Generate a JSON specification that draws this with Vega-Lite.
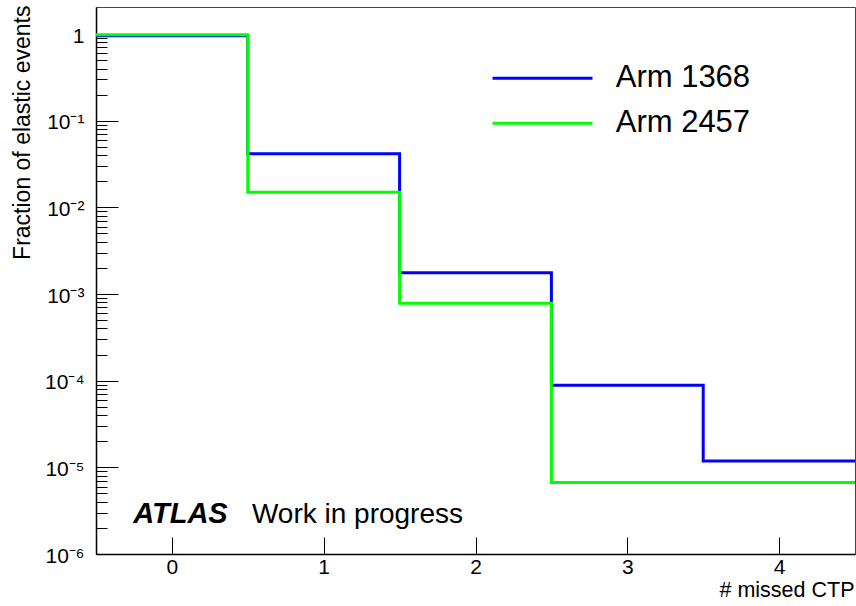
{
  "$schema": "https://vega.github.io/schema/vega-lite/v6.json",
  "width": 759,
  "height": 547,
  "autosize": {"type": "none"},
  "padding": {"left": 96, "top": 7, "right": 1, "bottom": 52},
  "background": "white",
  "config": {
    "view": {"stroke": "#444444", "strokeWidth": 1},
    "font": "Liberation Sans"
  },
  "resolve": {"axis": {"y": "independent"}},
  "layer": [
    {
      "data": {
        "values": [
          {"series": "Arm 1368", "x": -0.5, "y": 0.957},
          {"series": "Arm 1368", "x": 0.5, "y": 0.0415},
          {"series": "Arm 1368", "x": 1.5, "y": 0.00176},
          {"series": "Arm 1368", "x": 2.5, "y": 0.0000883},
          {"series": "Arm 1368", "x": 3.5, "y": 0.0000118},
          {"series": "Arm 1368", "x": 4.5, "y": 0.0000118},
          {"series": "Arm 2457", "x": -0.5, "y": 0.984},
          {"series": "Arm 2457", "x": 0.5, "y": 0.01497},
          {"series": "Arm 2457", "x": 1.5, "y": 0.00078},
          {"series": "Arm 2457", "x": 2.5, "y": 0.0000067},
          {"series": "Arm 2457", "x": 3.5, "y": 0.0000067},
          {"series": "Arm 2457", "x": 4.5, "y": 0.0000067}
        ]
      },
      "mark": {"type": "line", "interpolate": "step-after", "strokeWidth": 3, "clip": true},
      "encoding": {
        "x": {
          "field": "x", "type": "quantitative",
          "scale": {"domain": [-0.5, 4.5], "nice": false, "zero": false},
          "axis": {
            "title": "# missed CTP",
            "values": [0, 1, 2, 3, 4],
            "format": "d",
            "grid": false,
            "tickSize": -17,
            "tickColor": "black",
            "domainColor": "black",
            "domainWidth": 1.5,
            "labelPadding": 19,
            "labelFontSize": 21,
            "labelFont": "Liberation Sans",
            "labelColor": "black",
            "labelFlush": false,
            "titleFontSize": 21.5,
            "titleFontWeight": "normal",
            "titleFont": "Liberation Sans",
            "titleColor": "black",
            "titleAlign": "right",
            "titleBaseline": "alphabetic",
            "titleX": 758,
            "titleY": 42
          }
        },
        "y": {
          "field": "y", "type": "quantitative",
          "scale": {"type": "log", "domain": [0.000001, 2.05], "nice": false},
          "axis": {
            "orient": "left",
            "title": "Fraction of elastic events",
            "values": [0.000001, 0.00001, 0.0001, 0.001, 0.01, 0.1, 1],
            "labelExpr": "datum.value > 0.5 ? '1' : '10' + ['', '⁻¹', '⁻²', '⁻³', '⁻⁴', '⁻⁵', '⁻⁶'][-round(log(datum.value)/LN10)]",
            "tickSize": -22,
            "grid": false,
            "tickColor": "black",
            "domainColor": "black",
            "domainWidth": 1.5,
            "labelAlign": "right",
            "labelBaseline": "middle",
            "labelPadding": 34,
            "labelOffset": 2,
            "labelFontSize": 21,
            "labelFont": "Liberation Sans",
            "labelColor": "black",
            "labelFlush": false,
            "labelOverlap": false,
            "labelBound": false,
            "titleFontSize": 23,
            "titleFontWeight": "normal",
            "titleFont": "Liberation Sans",
            "titleColor": "black",
            "titleAlign": "right",
            "titleBaseline": "alphabetic",
            "titleAngle": 270,
            "titleX": -67,
            "titleY": -2
          }
        },
        "color": {
          "field": "series", "type": "nominal",
          "scale": {"domain": ["Arm 1368", "Arm 2457"], "range": ["#0000ff", "#00ff00"]},
          "legend": {
            "title": null,
            "orient": "none",
            "legendX": 395,
            "legendY": 49,
            "padding": 0,
            "symbolType": "stroke",
            "symbolSize": 10000,
            "symbolStrokeWidth": 3,
            "clipHeight": 44.6,
            "rowPadding": 0,
            "labelFontSize": 31,
            "labelFont": "Liberation Sans",
            "labelColor": "black",
            "labelOffset": 21.7,
            "labelLimit": 400
          }
        }
      }
    },
    {
      "data": {"values": [{"label": "ATLAS", "x": -0.255, "y": 0.00000228}]},
      "mark": {"type": "text", "font": "Liberation Sans", "fontSize": 29, "fontWeight": "bold", "fontStyle": "italic", "align": "left", "baseline": "alphabetic", "color": "black"},
      "encoding": {
        "x": {"field": "x", "type": "quantitative"},
        "y": {"field": "y", "type": "quantitative", "axis": null},
        "text": {"field": "label"}
      }
    },
    {
      "data": {"values": [{"label": "Work in progress", "x": 0.527, "y": 0.00000228}]},
      "mark": {"type": "text", "font": "Liberation Sans", "fontSize": 28, "align": "left", "baseline": "alphabetic", "color": "black"},
      "encoding": {
        "x": {"field": "x", "type": "quantitative"},
        "y": {
          "field": "y", "type": "quantitative",
          "axis": {
            "orient": "left",
            "title": null,
            "values": [0.000002, 0.000003, 0.000004, 0.000005, 0.000006, 0.000007, 0.000008, 0.000009,
                       0.00002, 0.00003, 0.00004, 0.00005, 0.00006, 0.00007, 0.00008, 0.00009,
                       0.0002, 0.0003, 0.0004, 0.0005, 0.0006, 0.0007, 0.0008, 0.0009,
                       0.002, 0.003, 0.004, 0.005, 0.006, 0.007, 0.008, 0.009,
                       0.02, 0.03, 0.04, 0.05, 0.06, 0.07, 0.08, 0.09,
                       0.2, 0.3, 0.4, 0.5, 0.6, 0.7, 0.8, 0.9],
            "labels": false,
            "domain": false,
            "grid": false,
            "tickSize": -11,
            "tickColor": "black"
          }
        },
        "text": {"field": "label"}
      }
    }
  ]
}
